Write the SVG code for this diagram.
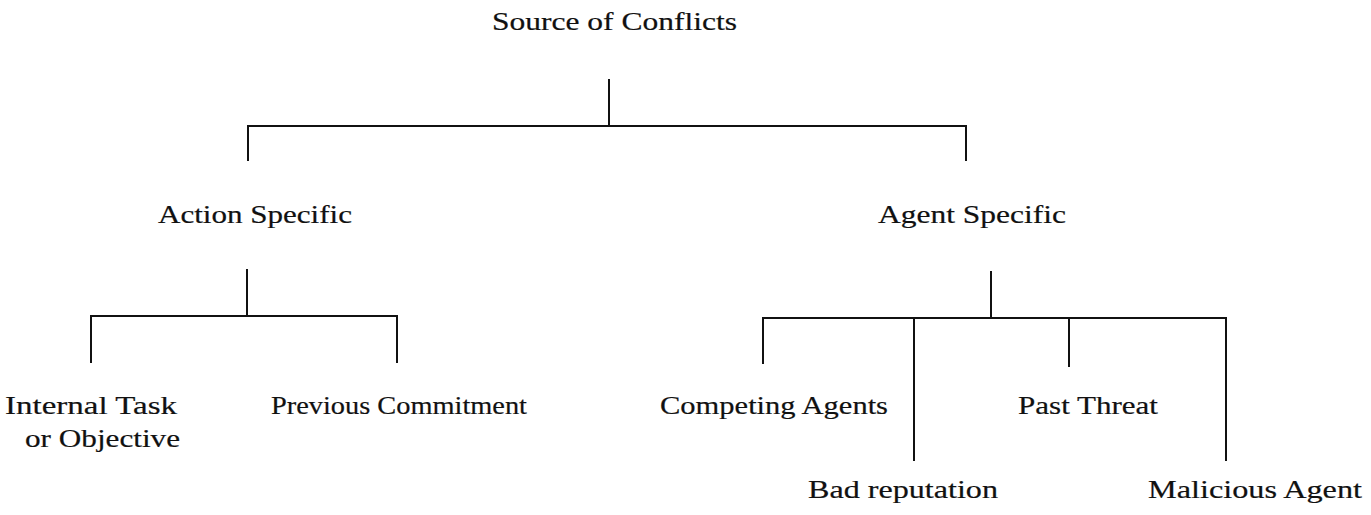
<svg xmlns="http://www.w3.org/2000/svg" width="1371" height="515" viewBox="0 0 1371 515">
  <style>
    .lbl { font-family: "Liberation Serif", "DejaVu Serif", serif; font-size: 26px; fill: #111; stroke: #111; stroke-width: 0.2; }
    .ln { stroke: #111; stroke-width: 2; fill: none; stroke-linecap: square; }
  </style>
  <rect width="1371" height="515" fill="#fff"/>

  <!-- tree connectors -->
  <g id="connectors">
    <path class="ln" d="M609 80 V126 M248 126 H966 M248 126 V160 M966 126 V160"/>
    <path class="ln" d="M247 270 V316 M91 316 H397 M91 316 V362 M397 316 V362"/>
    <path class="ln" d="M991 272 V318 M763 318 H1226 M763 318 V363 M914 318 V460 M1069 318 V366 M1226 318 V460"/>
  </g>

  <g id="source"><text class="lbl" x="492" y="30" textLength="245" lengthAdjust="spacingAndGlyphs">Source of Conflicts</text></g>
  <g id="action"><text class="lbl" x="158" y="223" textLength="194" lengthAdjust="spacingAndGlyphs">Action Specific</text></g>
  <g id="agent"><text class="lbl" x="878" y="223" textLength="188" lengthAdjust="spacingAndGlyphs">Agent Specific</text></g>
  <g id="internal">
    <text class="lbl" x="5" y="414" textLength="172" lengthAdjust="spacingAndGlyphs">Internal Task</text>
    <text class="lbl" x="25" y="447" textLength="155" lengthAdjust="spacingAndGlyphs">or Objective</text>
  </g>
  <g id="previous"><text class="lbl" x="271" y="414" textLength="256" lengthAdjust="spacingAndGlyphs">Previous Commitment</text></g>
  <g id="competing"><text class="lbl" x="660" y="414" textLength="228" lengthAdjust="spacingAndGlyphs">Competing Agents</text></g>
  <g id="past"><text class="lbl" x="1018" y="414" textLength="140" lengthAdjust="spacingAndGlyphs">Past Threat</text></g>
  <g id="bad"><text class="lbl" x="808" y="498" textLength="190" lengthAdjust="spacingAndGlyphs">Bad reputation</text></g>
  <g id="malicious"><text class="lbl" x="1148" y="498" textLength="214" lengthAdjust="spacingAndGlyphs">Malicious Agent</text></g>
</svg>
